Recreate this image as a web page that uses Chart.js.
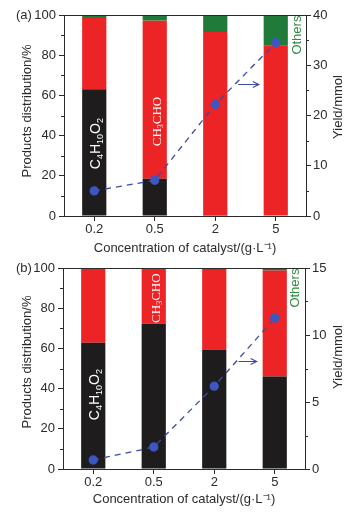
<!DOCTYPE html>
<html lang="en">
<head>
    <meta charset="UTF-8">
    <title>Products distribution vs catalyst concentration</title>
    <script src="https://cdn.jsdelivr.net/npm/chart.js"></script>
    <style>
        body { margin: 0; background: #fff; width: 355px; height: 515px; overflow: hidden; }
        .panel { position: absolute; left: 0; width: 355px; }
        #wrapA { top: 0; height: 257px; }
        #wrapB { top: 257px; height: 258px; }
    </style>
</head>
<body>
    <div class="panel" id="wrapA"><canvas id="chartA" width="355" height="257"></canvas></div>
    <div class="panel" id="wrapB"><canvas id="chartB" width="355" height="258"></canvas></div>

    <script>
        // categories (catalyst concentration, g/L)
        var categories = ['0.2', '0.5', '2', '5'];

        // panel (a) product distribution, %
        var aC4H10O2 = [63, 18.5, 0.5, 0];
        var aCH3CHO = [35.5, 78.7, 91, 84.7];
        var aOthers = [1.5, 2.8, 8.5, 15.3];
        var aYield = [5.0, 7.1, 22.2, 34.5];

        // panel (b) product distribution, %
        var bC4H10O2 = [62.8, 72.3, 59.5, 46];
        var bCH3CHO = [37.2, 27.7, 39.5, 52.7];
        var bOthers = [0, 0, 1, 1.3];
        var bYield = [0.67, 1.64, 6.18, 11.26];

        // axis ticks
        var leftTicks = [0, 20, 40, 60, 80, 100];
        var rightTicksA = [0, 10, 20, 30, 40];
        var rightTicksB = [0, 5, 10, 15];

        var INK = '#2b2b2b';
        var FONT = '"Liberation Sans", Arial, sans-serif';

        // draws frame, minor ticks and the text annotations
        var decorPlugin = {
            id: 'decor',
            afterDraw: function (chart) {
                var o = chart.options.plugins.decor;
                var ctx = chart.ctx;
                var area = chart.chartArea;
                var y = chart.scales.y, y2 = chart.scales.y2, x = chart.scales.x;
                ctx.save();

                // top frame line
                ctx.strokeStyle = INK;
                ctx.lineWidth = 1;
                ctx.beginPath();
                ctx.moveTo(area.left, area.top + 0.5);
                ctx.lineTo(area.right, area.top + 0.5);
                ctx.stroke();

                // minor ticks
                ctx.beginPath();
                for (var v = 10; v < 100; v += 20) {
                    var py = Math.round(y.getPixelForValue(v)) + 0.5;
                    ctx.moveTo(area.left - 3, py);
                    ctx.lineTo(area.left, py);
                }
                for (var w = o.minorStep; w < o.rightMax; w += o.minorStep * 2) {
                    var py2 = Math.round(y2.getPixelForValue(w)) + 0.5;
                    ctx.moveTo(area.right, py2);
                    ctx.lineTo(area.right + 3, py2);
                }
                ctx.stroke();

                // panel label
                ctx.fillStyle = INK;
                ctx.font = '13px ' + FONT;
                ctx.textAlign = 'left';
                ctx.textBaseline = 'middle';
                ctx.fillText(o.panel, 16, area.top);

                // left title
                ctx.save();
                ctx.translate(27, o.leftTitleY);
                ctx.rotate(-Math.PI / 2);
                ctx.textAlign = 'center';
                ctx.fillText('Products distribution/%', 0, 0);
                ctx.restore();

                // right title
                ctx.save();
                ctx.translate(338, o.rightTitleY);
                ctx.rotate(-Math.PI / 2);
                ctx.textAlign = 'center';
                ctx.fillText('Yield/mmol', 0, 0);
                ctx.restore();

                // C4H10O2 inside the first bar
                ctx.save();
                ctx.translate(x.getPixelForValue(0) + 1, y.getPixelForValue(o.c4Y));
                ctx.rotate(-Math.PI / 2);
                ctx.fillStyle = '#fff';
                var parts = [['C', 0], ['4', 1], ['H', 0], ['10', 1], ['O', 0], ['2', 1]];
                var total = 0;
                parts.forEach(function (p) {
                    ctx.font = (p[1] ? '9px ' : '14px ') + FONT;
                    total += ctx.measureText(p[0]).width;
                });
                var cx = -total / 2;
                ctx.textAlign = 'left';
                ctx.textBaseline = 'alphabetic';
                parts.forEach(function (p) {
                    ctx.font = (p[1] ? '9px ' : '14px ') + FONT;
                    ctx.fillText(p[0], cx, p[1] ? 8 : 5);
                    cx += ctx.measureText(p[0]).width;
                });
                ctx.restore();

                // CH3CHO inside the second bar
                ctx.save();
                ctx.translate(x.getPixelForValue(1) + 1, y.getPixelForValue(o.chY));
                ctx.rotate(-Math.PI / 2);
                ctx.fillStyle = '#fff';
                var sparts = [['CH', 0], ['3', 1], ['CHO', 0]];
                var stotal = 0;
                sparts.forEach(function (p) {
                    ctx.font = (p[1] ? '8px ' : '13px ') + '"Liberation Serif", "Times New Roman", serif';
                    stotal += ctx.measureText(p[0]).width;
                });
                var sx = -stotal / 2;
                ctx.textAlign = 'left';
                ctx.textBaseline = 'alphabetic';
                sparts.forEach(function (p) {
                    ctx.font = (p[1] ? '8px ' : '13px ') + '"Liberation Serif", "Times New Roman", serif';
                    ctx.fillText(p[0], sx, p[1] ? 7 : 5);
                    sx += ctx.measureText(p[0]).width;
                });
                ctx.restore();

                // Others label
                ctx.save();
                ctx.translate(o.othersX, y.getPixelForValue(o.othersY));
                ctx.rotate(-Math.PI / 2);
                ctx.fillStyle = '#2e8b3e';
                ctx.font = '13px ' + FONT;
                ctx.textAlign = 'center';
                ctx.textBaseline = 'middle';
                ctx.fillText('Others', 0, 0);
                ctx.restore();

                // arrow pointing to the right axis
                var ax0 = x.getPixelForValue(o.arrow[0]);
                var ax1 = x.getPixelForValue(o.arrow[1]);
                var ay = Math.round(y2.getPixelForValue(o.arrow[2])) + 0.5;
                ctx.strokeStyle = '#3a4aa6';
                ctx.lineWidth = 1.2;
                ctx.beginPath();
                ctx.moveTo(ax0, ay);
                ctx.lineTo(ax1, ay);
                ctx.moveTo(ax1 - 6, ay - 3);
                ctx.lineTo(ax1, ay);
                ctx.lineTo(ax1 - 6, ay + 3);
                ctx.stroke();

                ctx.restore();
            }
        };

        function makeChart(id, c4, ch3, others, yieldVals, rightTicks, geom, decor) {
            var ctx = document.getElementById(id).getContext('2d');
            var rightMax = rightTicks[rightTicks.length - 1];
            var rightStep = rightTicks[1] - rightTicks[0];
            decor.rightMax = rightMax;
            decor.minorStep = rightStep / 2;
            return new Chart(ctx, {
                type: 'bar',
                data: {
                    labels: categories,
                    datasets: [{
                        type: 'line',
                        label: 'Yield',
                        data: yieldVals,
                        yAxisID: 'y2',
                        borderColor: '#3a4aa6',
                        borderWidth: 1.3,
                        borderDash: [6, 5],
                        pointRadius: 4,
                        pointBackgroundColor: '#3d57c0',
                        pointBorderColor: '#3d57c0',
                        fill: false,
                        order: 0
                    }, {
                        label: 'C4H10O2',
                        data: c4,
                        backgroundColor: '#1e1c1c',
                        stack: 's',
                        order: 1
                    }, {
                        label: 'CH3CHO',
                        data: ch3,
                        backgroundColor: '#ed2426',
                        stack: 's',
                        order: 1
                    }, {
                        label: 'Others',
                        data: others,
                        backgroundColor: '#207a3a',
                        stack: 's',
                        order: 1
                    }]
                },
                options: {
                    responsive: false,
                    animation: false,
                    layout: { padding: { top: geom.top, left: 0, right: 0, bottom: 0 } },
                    datasets: { bar: { barPercentage: 0.4, categoryPercentage: 1, borderWidth: 0 } },
                    plugins: {
                        legend: { display: false },
                        tooltip: { enabled: false },
                        decor: decor
                    },
                    scales: {
                        x: {
                            stacked: true,
                            afterFit: function (s) { s.height = geom.xHeight; },
                            border: { display: true, color: INK, width: 1 },
                            grid: { display: true, drawOnChartArea: false, offset: false, tickLength: 5, color: INK },
                            ticks: { color: INK, padding: 1, font: { size: 13, family: FONT } },
                            title: {
                                display: true,
                                text: 'Concentration of catalyst/(g\u00b7L\u207b\u00b9)',
                                color: INK,
                                font: { size: 13, family: FONT },
                                padding: { top: 0, bottom: geom.xTitlePad }
                            }
                        },
                        y: {
                            stacked: true,
                            position: 'left',
                            min: 0,
                            max: 100,
                            afterFit: function (s) { s.width = geom.left; },
                            afterBuildTicks: function (s) { s.ticks = leftTicks.map(function (v) { return { value: v }; }); },
                            border: { display: true, color: INK, width: 1 },
                            grid: { display: true, drawOnChartArea: false, tickLength: 5, color: INK },
                            ticks: { color: INK, padding: 3, font: { size: 13, family: FONT } }
                        },
                        y2: {
                            position: 'right',
                            min: 0,
                            max: rightMax,
                            afterFit: function (s) { s.width = geom.right; },
                            afterBuildTicks: function (s) { s.ticks = rightTicks.map(function (v) { return { value: v }; }); },
                            border: { display: true, color: INK, width: 1 },
                            grid: { display: true, drawOnChartArea: false, tickLength: 5, color: INK },
                            ticks: { color: INK, padding: 2, font: { size: 13, family: FONT } }
                        }
                    }
                },
                plugins: [decorPlugin]
            });
        }

        makeChart('chartA', aC4H10O2, aCH3CHO, aOthers, aYield, rightTicksA,
            { top: 15, left: 64, right: 49, xHeight: 41, xTitlePad: 1 },
            { panel: '(a)', leftTitleY: 111, rightTitleY: 107, c4Y: 36, chY: 47, othersX: 297, othersY: 90, arrow: [2.38, 2.72, 26.3] });

        makeChart('chartB', bC4H10O2, bCH3CHO, bOthers, bYield, rightTicksB,
            { top: 11, left: 63, right: 50, xHeight: 46, xTitlePad: 8 },
            { panel: '(b)', leftTitleY: 105, rightTitleY: 100, c4Y: 37, chY: 85, othersX: 295, othersY: 90, arrow: [2.4, 2.7, 8.06] });
    </script>
</body>
</html>
